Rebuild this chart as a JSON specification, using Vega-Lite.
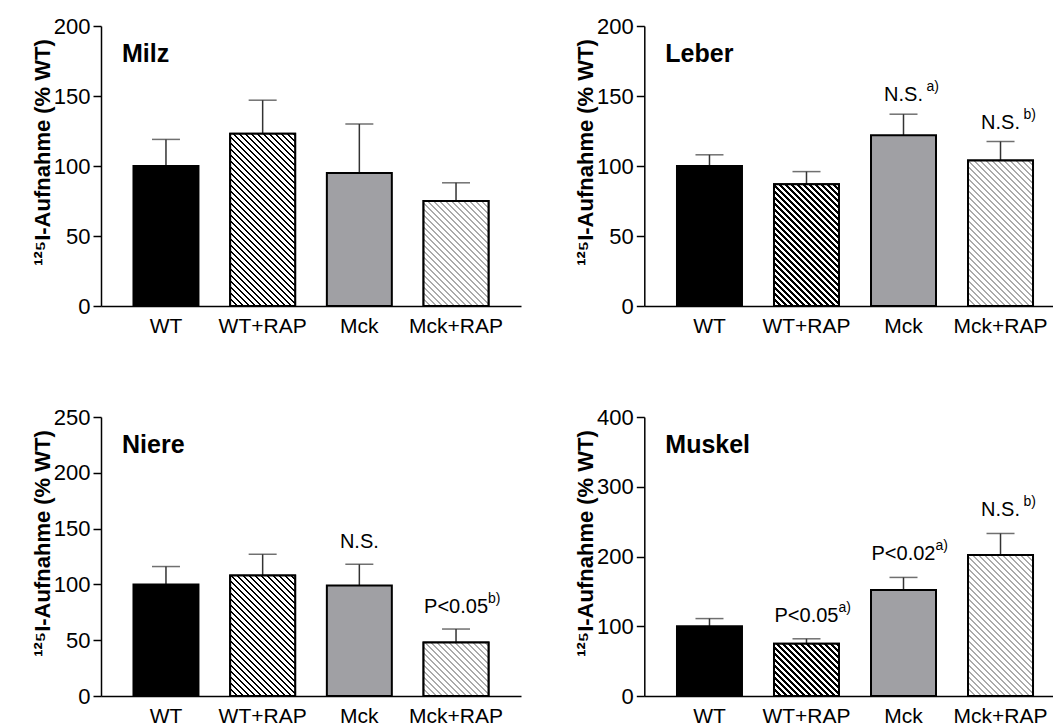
{
  "$schema": "https://vega.github.io/schema/vega-lite/v6.json",
  "background": "white",
  "padding": {"left": 30, "top": 15, "right": 0, "bottom": 0},
  "params": [
    {"name": "hk", "value": [
      {"offset":0,"color":"#000"},{"offset":0.00875,"color":"#000"},{"offset":0.00875,"color":"#fff"},{"offset":0.025,"color":"#fff"},
      {"offset":0.025,"color":"#000"},{"offset":0.03375,"color":"#000"},{"offset":0.03375,"color":"#fff"},{"offset":0.05,"color":"#fff"},
      {"offset":0.05,"color":"#000"},{"offset":0.05875,"color":"#000"},{"offset":0.05875,"color":"#fff"},{"offset":0.075,"color":"#fff"},
      {"offset":0.075,"color":"#000"},{"offset":0.08375,"color":"#000"},{"offset":0.08375,"color":"#fff"},{"offset":0.1,"color":"#fff"},
      {"offset":0.1,"color":"#000"},{"offset":0.10875,"color":"#000"},{"offset":0.10875,"color":"#fff"},{"offset":0.125,"color":"#fff"},
      {"offset":0.125,"color":"#000"},{"offset":0.13375,"color":"#000"},{"offset":0.13375,"color":"#fff"},{"offset":0.15,"color":"#fff"},
      {"offset":0.15,"color":"#000"},{"offset":0.15875,"color":"#000"},{"offset":0.15875,"color":"#fff"},{"offset":0.175,"color":"#fff"},
      {"offset":0.175,"color":"#000"},{"offset":0.18375,"color":"#000"},{"offset":0.18375,"color":"#fff"},{"offset":0.2,"color":"#fff"},
      {"offset":0.2,"color":"#000"},{"offset":0.20875,"color":"#000"},{"offset":0.20875,"color":"#fff"},{"offset":0.225,"color":"#fff"},
      {"offset":0.225,"color":"#000"},{"offset":0.23375,"color":"#000"},{"offset":0.23375,"color":"#fff"},{"offset":0.25,"color":"#fff"},
      {"offset":0.25,"color":"#000"},{"offset":0.25875,"color":"#000"},{"offset":0.25875,"color":"#fff"},{"offset":0.275,"color":"#fff"},
      {"offset":0.275,"color":"#000"},{"offset":0.28375,"color":"#000"},{"offset":0.28375,"color":"#fff"},{"offset":0.3,"color":"#fff"},
      {"offset":0.3,"color":"#000"},{"offset":0.30875,"color":"#000"},{"offset":0.30875,"color":"#fff"},{"offset":0.325,"color":"#fff"},
      {"offset":0.325,"color":"#000"},{"offset":0.33375,"color":"#000"},{"offset":0.33375,"color":"#fff"},{"offset":0.35,"color":"#fff"},
      {"offset":0.35,"color":"#000"},{"offset":0.35875,"color":"#000"},{"offset":0.35875,"color":"#fff"},{"offset":0.375,"color":"#fff"},
      {"offset":0.375,"color":"#000"},{"offset":0.38375,"color":"#000"},{"offset":0.38375,"color":"#fff"},{"offset":0.4,"color":"#fff"},
      {"offset":0.4,"color":"#000"},{"offset":0.40875,"color":"#000"},{"offset":0.40875,"color":"#fff"},{"offset":0.425,"color":"#fff"},
      {"offset":0.425,"color":"#000"},{"offset":0.43375,"color":"#000"},{"offset":0.43375,"color":"#fff"},{"offset":0.45,"color":"#fff"},
      {"offset":0.45,"color":"#000"},{"offset":0.45875,"color":"#000"},{"offset":0.45875,"color":"#fff"},{"offset":0.475,"color":"#fff"},
      {"offset":0.475,"color":"#000"},{"offset":0.48375,"color":"#000"},{"offset":0.48375,"color":"#fff"},{"offset":0.5,"color":"#fff"},
      {"offset":0.5,"color":"#000"},{"offset":0.50875,"color":"#000"},{"offset":0.50875,"color":"#fff"},{"offset":0.525,"color":"#fff"},
      {"offset":0.525,"color":"#000"},{"offset":0.53375,"color":"#000"},{"offset":0.53375,"color":"#fff"},{"offset":0.55,"color":"#fff"},
      {"offset":0.55,"color":"#000"},{"offset":0.55875,"color":"#000"},{"offset":0.55875,"color":"#fff"},{"offset":0.575,"color":"#fff"},
      {"offset":0.575,"color":"#000"},{"offset":0.58375,"color":"#000"},{"offset":0.58375,"color":"#fff"},{"offset":0.6,"color":"#fff"},
      {"offset":0.6,"color":"#000"},{"offset":0.60875,"color":"#000"},{"offset":0.60875,"color":"#fff"},{"offset":0.625,"color":"#fff"},
      {"offset":0.625,"color":"#000"},{"offset":0.63375,"color":"#000"},{"offset":0.63375,"color":"#fff"},{"offset":0.65,"color":"#fff"},
      {"offset":0.65,"color":"#000"},{"offset":0.65875,"color":"#000"},{"offset":0.65875,"color":"#fff"},{"offset":0.675,"color":"#fff"},
      {"offset":0.675,"color":"#000"},{"offset":0.68375,"color":"#000"},{"offset":0.68375,"color":"#fff"},{"offset":0.7,"color":"#fff"},
      {"offset":0.7,"color":"#000"},{"offset":0.70875,"color":"#000"},{"offset":0.70875,"color":"#fff"},{"offset":0.725,"color":"#fff"},
      {"offset":0.725,"color":"#000"},{"offset":0.73375,"color":"#000"},{"offset":0.73375,"color":"#fff"},{"offset":0.75,"color":"#fff"},
      {"offset":0.75,"color":"#000"},{"offset":0.75875,"color":"#000"},{"offset":0.75875,"color":"#fff"},{"offset":0.775,"color":"#fff"},
      {"offset":0.775,"color":"#000"},{"offset":0.78375,"color":"#000"},{"offset":0.78375,"color":"#fff"},{"offset":0.8,"color":"#fff"},
      {"offset":0.8,"color":"#000"},{"offset":0.80875,"color":"#000"},{"offset":0.80875,"color":"#fff"},{"offset":0.825,"color":"#fff"},
      {"offset":0.825,"color":"#000"},{"offset":0.83375,"color":"#000"},{"offset":0.83375,"color":"#fff"},{"offset":0.85,"color":"#fff"},
      {"offset":0.85,"color":"#000"},{"offset":0.85875,"color":"#000"},{"offset":0.85875,"color":"#fff"},{"offset":0.875,"color":"#fff"},
      {"offset":0.875,"color":"#000"},{"offset":0.88375,"color":"#000"},{"offset":0.88375,"color":"#fff"},{"offset":0.9,"color":"#fff"},
      {"offset":0.9,"color":"#000"},{"offset":0.90875,"color":"#000"},{"offset":0.90875,"color":"#fff"},{"offset":0.925,"color":"#fff"},
      {"offset":0.925,"color":"#000"},{"offset":0.93375,"color":"#000"},{"offset":0.93375,"color":"#fff"},{"offset":0.95,"color":"#fff"},
      {"offset":0.95,"color":"#000"},{"offset":0.95875,"color":"#000"},{"offset":0.95875,"color":"#fff"},{"offset":0.975,"color":"#fff"},
      {"offset":0.975,"color":"#000"},{"offset":0.98375,"color":"#000"},{"offset":0.98375,"color":"#fff"},{"offset":1,"color":"#fff"}
    ]},
    {"name": "hg", "value": [
      {"offset":0,"color":"#aaa"},{"offset":0.00875,"color":"#aaa"},{"offset":0.00875,"color":"#fff"},{"offset":0.025,"color":"#fff"},
      {"offset":0.025,"color":"#aaa"},{"offset":0.03375,"color":"#aaa"},{"offset":0.03375,"color":"#fff"},{"offset":0.05,"color":"#fff"},
      {"offset":0.05,"color":"#aaa"},{"offset":0.05875,"color":"#aaa"},{"offset":0.05875,"color":"#fff"},{"offset":0.075,"color":"#fff"},
      {"offset":0.075,"color":"#aaa"},{"offset":0.08375,"color":"#aaa"},{"offset":0.08375,"color":"#fff"},{"offset":0.1,"color":"#fff"},
      {"offset":0.1,"color":"#aaa"},{"offset":0.10875,"color":"#aaa"},{"offset":0.10875,"color":"#fff"},{"offset":0.125,"color":"#fff"},
      {"offset":0.125,"color":"#aaa"},{"offset":0.13375,"color":"#aaa"},{"offset":0.13375,"color":"#fff"},{"offset":0.15,"color":"#fff"},
      {"offset":0.15,"color":"#aaa"},{"offset":0.15875,"color":"#aaa"},{"offset":0.15875,"color":"#fff"},{"offset":0.175,"color":"#fff"},
      {"offset":0.175,"color":"#aaa"},{"offset":0.18375,"color":"#aaa"},{"offset":0.18375,"color":"#fff"},{"offset":0.2,"color":"#fff"},
      {"offset":0.2,"color":"#aaa"},{"offset":0.20875,"color":"#aaa"},{"offset":0.20875,"color":"#fff"},{"offset":0.225,"color":"#fff"},
      {"offset":0.225,"color":"#aaa"},{"offset":0.23375,"color":"#aaa"},{"offset":0.23375,"color":"#fff"},{"offset":0.25,"color":"#fff"},
      {"offset":0.25,"color":"#aaa"},{"offset":0.25875,"color":"#aaa"},{"offset":0.25875,"color":"#fff"},{"offset":0.275,"color":"#fff"},
      {"offset":0.275,"color":"#aaa"},{"offset":0.28375,"color":"#aaa"},{"offset":0.28375,"color":"#fff"},{"offset":0.3,"color":"#fff"},
      {"offset":0.3,"color":"#aaa"},{"offset":0.30875,"color":"#aaa"},{"offset":0.30875,"color":"#fff"},{"offset":0.325,"color":"#fff"},
      {"offset":0.325,"color":"#aaa"},{"offset":0.33375,"color":"#aaa"},{"offset":0.33375,"color":"#fff"},{"offset":0.35,"color":"#fff"},
      {"offset":0.35,"color":"#aaa"},{"offset":0.35875,"color":"#aaa"},{"offset":0.35875,"color":"#fff"},{"offset":0.375,"color":"#fff"},
      {"offset":0.375,"color":"#aaa"},{"offset":0.38375,"color":"#aaa"},{"offset":0.38375,"color":"#fff"},{"offset":0.4,"color":"#fff"},
      {"offset":0.4,"color":"#aaa"},{"offset":0.40875,"color":"#aaa"},{"offset":0.40875,"color":"#fff"},{"offset":0.425,"color":"#fff"},
      {"offset":0.425,"color":"#aaa"},{"offset":0.43375,"color":"#aaa"},{"offset":0.43375,"color":"#fff"},{"offset":0.45,"color":"#fff"},
      {"offset":0.45,"color":"#aaa"},{"offset":0.45875,"color":"#aaa"},{"offset":0.45875,"color":"#fff"},{"offset":0.475,"color":"#fff"},
      {"offset":0.475,"color":"#aaa"},{"offset":0.48375,"color":"#aaa"},{"offset":0.48375,"color":"#fff"},{"offset":0.5,"color":"#fff"},
      {"offset":0.5,"color":"#aaa"},{"offset":0.50875,"color":"#aaa"},{"offset":0.50875,"color":"#fff"},{"offset":0.525,"color":"#fff"},
      {"offset":0.525,"color":"#aaa"},{"offset":0.53375,"color":"#aaa"},{"offset":0.53375,"color":"#fff"},{"offset":0.55,"color":"#fff"},
      {"offset":0.55,"color":"#aaa"},{"offset":0.55875,"color":"#aaa"},{"offset":0.55875,"color":"#fff"},{"offset":0.575,"color":"#fff"},
      {"offset":0.575,"color":"#aaa"},{"offset":0.58375,"color":"#aaa"},{"offset":0.58375,"color":"#fff"},{"offset":0.6,"color":"#fff"},
      {"offset":0.6,"color":"#aaa"},{"offset":0.60875,"color":"#aaa"},{"offset":0.60875,"color":"#fff"},{"offset":0.625,"color":"#fff"},
      {"offset":0.625,"color":"#aaa"},{"offset":0.63375,"color":"#aaa"},{"offset":0.63375,"color":"#fff"},{"offset":0.65,"color":"#fff"},
      {"offset":0.65,"color":"#aaa"},{"offset":0.65875,"color":"#aaa"},{"offset":0.65875,"color":"#fff"},{"offset":0.675,"color":"#fff"},
      {"offset":0.675,"color":"#aaa"},{"offset":0.68375,"color":"#aaa"},{"offset":0.68375,"color":"#fff"},{"offset":0.7,"color":"#fff"},
      {"offset":0.7,"color":"#aaa"},{"offset":0.70875,"color":"#aaa"},{"offset":0.70875,"color":"#fff"},{"offset":0.725,"color":"#fff"},
      {"offset":0.725,"color":"#aaa"},{"offset":0.73375,"color":"#aaa"},{"offset":0.73375,"color":"#fff"},{"offset":0.75,"color":"#fff"},
      {"offset":0.75,"color":"#aaa"},{"offset":0.75875,"color":"#aaa"},{"offset":0.75875,"color":"#fff"},{"offset":0.775,"color":"#fff"},
      {"offset":0.775,"color":"#aaa"},{"offset":0.78375,"color":"#aaa"},{"offset":0.78375,"color":"#fff"},{"offset":0.8,"color":"#fff"},
      {"offset":0.8,"color":"#aaa"},{"offset":0.80875,"color":"#aaa"},{"offset":0.80875,"color":"#fff"},{"offset":0.825,"color":"#fff"},
      {"offset":0.825,"color":"#aaa"},{"offset":0.83375,"color":"#aaa"},{"offset":0.83375,"color":"#fff"},{"offset":0.85,"color":"#fff"},
      {"offset":0.85,"color":"#aaa"},{"offset":0.85875,"color":"#aaa"},{"offset":0.85875,"color":"#fff"},{"offset":0.875,"color":"#fff"},
      {"offset":0.875,"color":"#aaa"},{"offset":0.88375,"color":"#aaa"},{"offset":0.88375,"color":"#fff"},{"offset":0.9,"color":"#fff"},
      {"offset":0.9,"color":"#aaa"},{"offset":0.90875,"color":"#aaa"},{"offset":0.90875,"color":"#fff"},{"offset":0.925,"color":"#fff"},
      {"offset":0.925,"color":"#aaa"},{"offset":0.93375,"color":"#aaa"},{"offset":0.93375,"color":"#fff"},{"offset":0.95,"color":"#fff"},
      {"offset":0.95,"color":"#aaa"},{"offset":0.95875,"color":"#aaa"},{"offset":0.95875,"color":"#fff"},{"offset":0.975,"color":"#fff"},
      {"offset":0.975,"color":"#aaa"},{"offset":0.98375,"color":"#aaa"},{"offset":0.98375,"color":"#fff"},{"offset":1,"color":"#fff"}
    ]}
  ],
  "datasets": {
    "d": [
      {"p": "Milz", "g": "WT", "v": 100, "e": 119},
      {"p": "Milz", "g": "WT+RAP", "v": 123, "e": 147},
      {"p": "Milz", "g": "Mck", "v": 95, "e": 130},
      {"p": "Milz", "g": "Mck+RAP", "v": 75, "e": 88},
      {"p": "Leber", "g": "WT", "v": 100, "e": 108},
      {"p": "Leber", "g": "WT+RAP", "v": 87, "e": 96},
      {"p": "Leber", "g": "Mck", "v": 122, "e": 137, "ann": "N.S.", "sup": "a)"},
      {"p": "Leber", "g": "Mck+RAP", "v": 104, "e": 117.5, "ann": "N.S.", "sup": "b)"},
      {"p": "Niere", "g": "WT", "v": 100, "e": 116},
      {"p": "Niere", "g": "WT+RAP", "v": 108, "e": 127},
      {"p": "Niere", "g": "Mck", "v": 99, "e": 118, "ann": "N.S."},
      {"p": "Niere", "g": "Mck+RAP", "v": 48, "e": 60, "ann": "P<0.05", "sup": "b)"},
      {"p": "Muskel", "g": "WT", "v": 100, "e": 111},
      {"p": "Muskel", "g": "WT+RAP", "v": 75, "e": 82, "ann": "P<0.05", "sup": "a)"},
      {"p": "Muskel", "g": "Mck", "v": 152, "e": 170, "ann": "P<0.02", "sup": "a)"},
      {"p": "Muskel", "g": "Mck+RAP", "v": 202, "e": 233, "ann": "N.S.", "sup": "b)"}
    ]
  },
  "config": {
    "view": {"stroke": null},
    "font": "Liberation Sans",
    "axis": {
      "domainColor": "#000", "domainWidth": 1.5, "tickColor": "#000", "tickWidth": 1.5,
      "labelFont": "Liberation Sans", "labelFontSize": 21, "labelColor": "#000",
      "titleFont": "Liberation Sans", "titleFontSize": 22, "titleFontWeight": "bold", "titleColor": "#000",
      "grid": false
    },
    "axisY": {"tickSize": 8, "labelPadding": 3, "labelFontSize": 22, "titleX": -52, "titleY": 126, "titleAngle": -90, "titleBaseline": "alphabetic", "titleAlign": "center"},
    "axisX": {"ticks": false, "labelPadding": 9, "labelAngle": 0, "title": null},
    "title": {"anchor": "start", "frame": "group", "offset": -52, "dx": 21, "fontSize": 25, "fontWeight": "bold", "font": "Liberation Sans", "color": "#000", "baseline": "alphabetic"},
    "text": {"font": "Liberation Sans", "color": "#000"}
  },
  "columns": 2,
  "bounds": "flush",
  "spacing": {"row": 111, "column": 123.3},
  "concat": [
    {
      "width": 420, "height": 280,
      "title": "Milz",
      "data": {"name": "d"},
      "transform": [{"filter": "datum.p == 'Milz'"}],
      "encoding": {
        "x": {"field": "g", "type": "nominal", "sort": ["WT", "WT+RAP", "Mck", "Mck+RAP"], "scale": {"paddingInner": 0.328, "paddingOuter": 0.336}, "axis": {"title": null}},
        "y": {"field": "v", "type": "quantitative", "scale": {"domain": [0, 200], "nice": false}, "axis": {"values": [0, 50, 100, 150, 200]}, "title": "¹²⁵I-Aufnahme (% WT)"}
      },
      "layer": [
        {"mark": {"type": "rule", "color": "#333", "strokeWidth": 1.5}, "encoding": {"y2": {"field": "e"}}},
        {"mark": {"type": "tick", "color": "#333", "thickness": 1.5, "size": 28}, "encoding": {"y": {"field": "e", "type": "quantitative", "title": "¹²⁵I-Aufnahme (% WT)"}}},
        {"mark": {"type": "bar", "stroke": "#000", "strokeWidth": 2}, "encoding": {"fill": {"field": "g", "type": "nominal", "scale": {"domain": ["WT", "WT+RAP", "Mck", "Mck+RAP"], "range": ["#000000", "#ffffff", "#a0a0a4", "#ffffff"]}, "legend": null}}},
        {"transform": [{"filter": "datum.g == 'WT+RAP'"}], "mark": {"type": "bar", "stroke": "#000", "strokeWidth": 2, "fill": {"expr": "{gradient: 'linear', x1: 0, y1: 1, x2: 0.4605, y2: -0.2199, stops: hk}"}}},
        {"transform": [{"filter": "datum.g == 'Mck+RAP'"}], "mark": {"type": "bar", "stroke": "#000", "strokeWidth": 2, "fill": {"expr": "{gradient: 'linear', x1: 0, y1: 1, x2: 1.023, y2: -0.6525, stops: hg}"}}}
      ]
    },
    {
      "width": 409, "height": 280,
      "title": "Leber",
      "data": {"name": "d"},
      "transform": [{"filter": "datum.p == 'Leber'"}],
      "encoding": {
        "x": {"field": "g", "type": "nominal", "sort": ["WT", "WT+RAP", "Mck", "Mck+RAP"], "scale": {"paddingInner": 0.33, "paddingOuter": 0.273, "align": 0.617}, "axis": {"title": null}},
        "y": {"field": "v", "type": "quantitative", "scale": {"domain": [0, 200], "nice": false}, "axis": {"values": [0, 50, 100, 150, 200]}, "title": "¹²⁵I-Aufnahme (% WT)"}
      },
      "layer": [
        {"mark": {"type": "rule", "color": "#333", "strokeWidth": 1.5}, "encoding": {"y2": {"field": "e"}}},
        {"mark": {"type": "tick", "color": "#333", "thickness": 1.5, "size": 28}, "encoding": {"y": {"field": "e", "type": "quantitative", "title": "¹²⁵I-Aufnahme (% WT)"}}},
        {"mark": {"type": "bar", "stroke": "#000", "strokeWidth": 2}, "encoding": {"fill": {"field": "g", "type": "nominal", "scale": {"domain": ["WT", "WT+RAP", "Mck", "Mck+RAP"], "range": ["#000000", "#ffffff", "#a0a0a4", "#ffffff"]}, "legend": null}}},
        {"transform": [{"filter": "datum.g == 'WT+RAP'"}], "mark": {"type": "bar", "stroke": "#000", "strokeWidth": 2, "fill": {"expr": "{gradient: 'linear', x1: 0, y1: 1, x2: 0.8185, y2: -0.5337, stops: hk}"}}},
        {"transform": [{"filter": "datum.g == 'Mck+RAP'"}], "mark": {"type": "bar", "stroke": "#000", "strokeWidth": 2, "fill": {"expr": "{gradient: 'linear', x1: 0, y1: 1, x2: 0.6136, y2: -0.3744, stops: hg}"}}},
        {"transform": [{"filter": "datum.ann"}], "mark": {"type": "text", "dy": -13, "fontSize": 20, "baseline": "alphabetic", "align": "center"}, "encoding": {"y": {"field": "e", "type": "quantitative", "title": "¹²⁵I-Aufnahme (% WT)"}, "text": {"field": "ann"}}},
        {"transform": [{"filter": "datum.sup && datum.ann == 'N.S.'"}], "mark": {"type": "text", "dy": -23, "dx": 23, "fontSize": 14, "baseline": "alphabetic", "align": "left"}, "encoding": {"y": {"field": "e", "type": "quantitative", "title": "¹²⁵I-Aufnahme (% WT)"}, "text": {"field": "sup"}}}
      ]
    },
    {
      "width": 420, "height": 279,
      "title": "Niere",
      "data": {"name": "d"},
      "transform": [{"filter": "datum.p == 'Niere'"}],
      "encoding": {
        "x": {"field": "g", "type": "nominal", "sort": ["WT", "WT+RAP", "Mck", "Mck+RAP"], "scale": {"paddingInner": 0.328, "paddingOuter": 0.336}, "axis": {"title": null}},
        "y": {"field": "v", "type": "quantitative", "scale": {"domain": [0, 250], "nice": false}, "axis": {"values": [0, 50, 100, 150, 200, 250]}, "title": "¹²⁵I-Aufnahme (% WT)"}
      },
      "layer": [
        {"mark": {"type": "rule", "color": "#333", "strokeWidth": 1.5}, "encoding": {"y2": {"field": "e"}}},
        {"mark": {"type": "tick", "color": "#333", "thickness": 1.5, "size": 28}, "encoding": {"y": {"field": "e", "type": "quantitative", "title": "¹²⁵I-Aufnahme (% WT)"}}},
        {"mark": {"type": "bar", "stroke": "#000", "strokeWidth": 2}, "encoding": {"fill": {"field": "g", "type": "nominal", "scale": {"domain": ["WT", "WT+RAP", "Mck", "Mck+RAP"], "range": ["#000000", "#ffffff", "#a0a0a4", "#ffffff"]}, "legend": null}}},
        {"transform": [{"filter": "datum.g == 'WT+RAP'"}], "mark": {"type": "bar", "stroke": "#000", "strokeWidth": 2, "fill": {"expr": "{gradient: 'linear', x1: 0, y1: 1, x2: 0.8319, y2: -0.5426, stops: hk}"}}},
        {"transform": [{"filter": "datum.g == 'Mck+RAP'"}], "mark": {"type": "bar", "stroke": "#000", "strokeWidth": 2, "fill": {"expr": "{gradient: 'linear', x1: 0, y1: 1, x2: 2.1988, y2: -0.8122, stops: hg}"}}},
        {"transform": [{"filter": "datum.ann"}], "mark": {"type": "text", "dy": -16, "fontSize": 20, "baseline": "alphabetic", "align": "center"}, "encoding": {"y": {"field": "e", "type": "quantitative", "title": "¹²⁵I-Aufnahme (% WT)"}, "text": {"field": "ann"}}},
        {"transform": [{"filter": "datum.sup && datum.ann != 'N.S.'"}], "mark": {"type": "text", "dy": -26, "dx": 32, "fontSize": 14, "baseline": "alphabetic", "align": "left"}, "encoding": {"y": {"field": "e", "type": "quantitative", "title": "¹²⁵I-Aufnahme (% WT)"}, "text": {"field": "sup"}}}
      ]
    },
    {
      "width": 409, "height": 279,
      "title": "Muskel",
      "data": {"name": "d"},
      "transform": [{"filter": "datum.p == 'Muskel'"}],
      "encoding": {
        "x": {"field": "g", "type": "nominal", "sort": ["WT", "WT+RAP", "Mck", "Mck+RAP"], "scale": {"paddingInner": 0.33, "paddingOuter": 0.273, "align": 0.617}, "axis": {"title": null}},
        "y": {"field": "v", "type": "quantitative", "scale": {"domain": [0, 400], "nice": false}, "axis": {"values": [0, 100, 200, 300, 400]}, "title": "¹²⁵I-Aufnahme (% WT)"}
      },
      "layer": [
        {"mark": {"type": "rule", "color": "#333", "strokeWidth": 1.5}, "encoding": {"y2": {"field": "e"}}},
        {"mark": {"type": "tick", "color": "#333", "thickness": 1.5, "size": 28}, "encoding": {"y": {"field": "e", "type": "quantitative", "title": "¹²⁵I-Aufnahme (% WT)"}}},
        {"mark": {"type": "bar", "stroke": "#000", "strokeWidth": 2}, "encoding": {"fill": {"field": "g", "type": "nominal", "scale": {"domain": ["WT", "WT+RAP", "Mck", "Mck+RAP"], "range": ["#000000", "#ffffff", "#a0a0a4", "#ffffff"]}, "legend": null}}},
        {"transform": [{"filter": "datum.g == 'WT+RAP'"}], "mark": {"type": "bar", "stroke": "#000", "strokeWidth": 2, "fill": {"expr": "{gradient: 'linear', x1: 0, y1: 1, x2: 2.2409, y2: -0.8035, stops: hk}"}}},
        {"transform": [{"filter": "datum.g == 'Mck+RAP'"}], "mark": {"type": "bar", "stroke": "#000", "strokeWidth": 2, "fill": {"expr": "{gradient: 'linear', x1: 0, y1: 1, x2: 0.6479, y2: -0.4045, stops: hg}"}}},
        {"transform": [{"filter": "datum.ann"}], "mark": {"type": "text", "dy": -17, "fontSize": 20, "baseline": "alphabetic", "align": "center"}, "encoding": {"y": {"field": "e", "type": "quantitative", "title": "¹²⁵I-Aufnahme (% WT)"}, "text": {"field": "ann"}}},
        {"transform": [{"filter": "datum.sup && datum.ann == 'N.S.'"}], "mark": {"type": "text", "dy": -27, "dx": 23, "fontSize": 14, "baseline": "alphabetic", "align": "left"}, "encoding": {"y": {"field": "e", "type": "quantitative", "title": "¹²⁵I-Aufnahme (% WT)"}, "text": {"field": "sup"}}},
        {"transform": [{"filter": "datum.sup && datum.ann != 'N.S.'"}], "mark": {"type": "text", "dy": -27, "dx": 32, "fontSize": 14, "baseline": "alphabetic", "align": "left"}, "encoding": {"y": {"field": "e", "type": "quantitative", "title": "¹²⁵I-Aufnahme (% WT)"}, "text": {"field": "sup"}}}
      ]
    }
  ]
}
